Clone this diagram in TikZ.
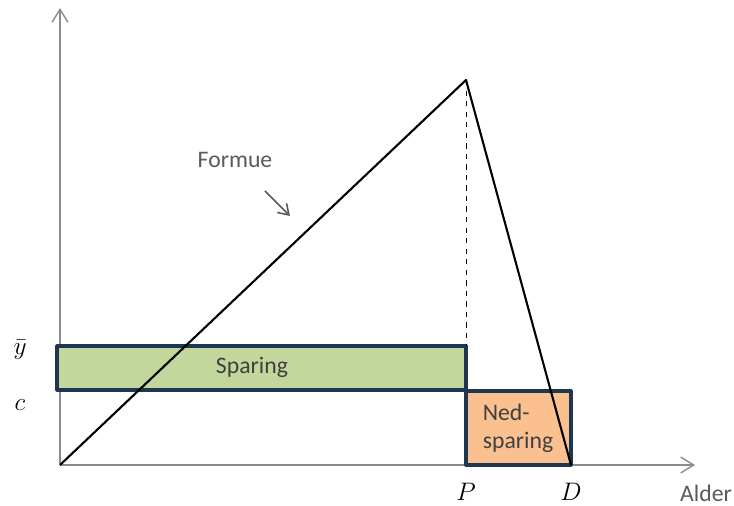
\documentclass[tikz,border=0pt]{standalone}
\usepackage{fontspec}
\setmainfont{Carlito}
\definecolor{axisgray}{HTML}{8C8C8C}
\definecolor{boxedge}{HTML}{1F3650}
\definecolor{savefill}{HTML}{C3D69B}
\definecolor{dissavefill}{HTML}{FAC090}
\definecolor{labelgray}{HTML}{5A5A5A}
\usetikzlibrary{arrows.meta}

\begin{document}
\begin{tikzpicture}[
  x=0.02cm,
  y=-0.02cm,
  line join=round,
  axis/.style={draw=axisgray,line width=0.8pt,-{Straight Barb[length=2.6mm,width=3.2mm]}},
  wealth/.style={draw=black,line width=1.2pt},
  guide/.style={draw=black,line width=0.4pt,dashed},
  savebox/.style={draw=boxedge,line width=1.8pt,fill=savefill},
  dissavebox/.style={draw=boxedge,line width=1.8pt,fill=dissavefill},
  pointer/.style={draw=labelgray,line width=0.9pt,-{Straight Barb[length=2mm,width=2.6mm]}},
  textlabel/.style={font=\fontsize{13.5}{16}\selectfont,text=labelgray},
  boxlabel/.style={font=\fontsize{13.5}{16}\selectfont,text=black!75},
  ticklabel/.style={font=\fontsize{15}{17}\selectfont}
]
  \useasboundingbox (0,0) rectangle (734,506);

  % points of the life cycle (pixel grid)
  \coordinate (O) at (60,465);
  \coordinate (Ytop) at (60,8);
  \coordinate (Xend) at (695,465);
  \coordinate (Peak) at (466,80);
  \coordinate (Dpt) at (571,465);
  \coordinate (Pbase) at (466,346);

  \draw[axis] (O) -- (Ytop);
  \draw[axis] (O) -- (Xend);

  % saving and dissaving periods
  \draw[savebox] (57,346) rectangle (466,390);
  \draw[dissavebox] (466,391) rectangle (Dpt);

  \draw[guide] (Peak) -- (Pbase);
  \draw[wealth] (O) -- (Peak) -- (Dpt);

  \node[boxlabel] (sparing) at (252,367) {Sparing};
  \node[boxlabel,align=left] (nedsparing) at (518,428) {Ned-\\sparing};

  \node[textlabel] (formue) at (235,160) {Formue};
  \coordinate (formueend) at (290,216);
  \draw[pointer] (265,191) -- (formueend);

  \node[ticklabel] (ybar) at (20,350) {$\bar{y}$};
  \node[ticklabel] (clab) at (20,405) {$c$};
  \node[ticklabel] (plab) at (466,492) {$P$};
  \node[ticklabel] (dlab) at (571,492) {$D$};
  \node[textlabel,anchor=east,inner xsep=1pt] (alder) at (734,493) {Alder};
\end{tikzpicture}
\end{document}
